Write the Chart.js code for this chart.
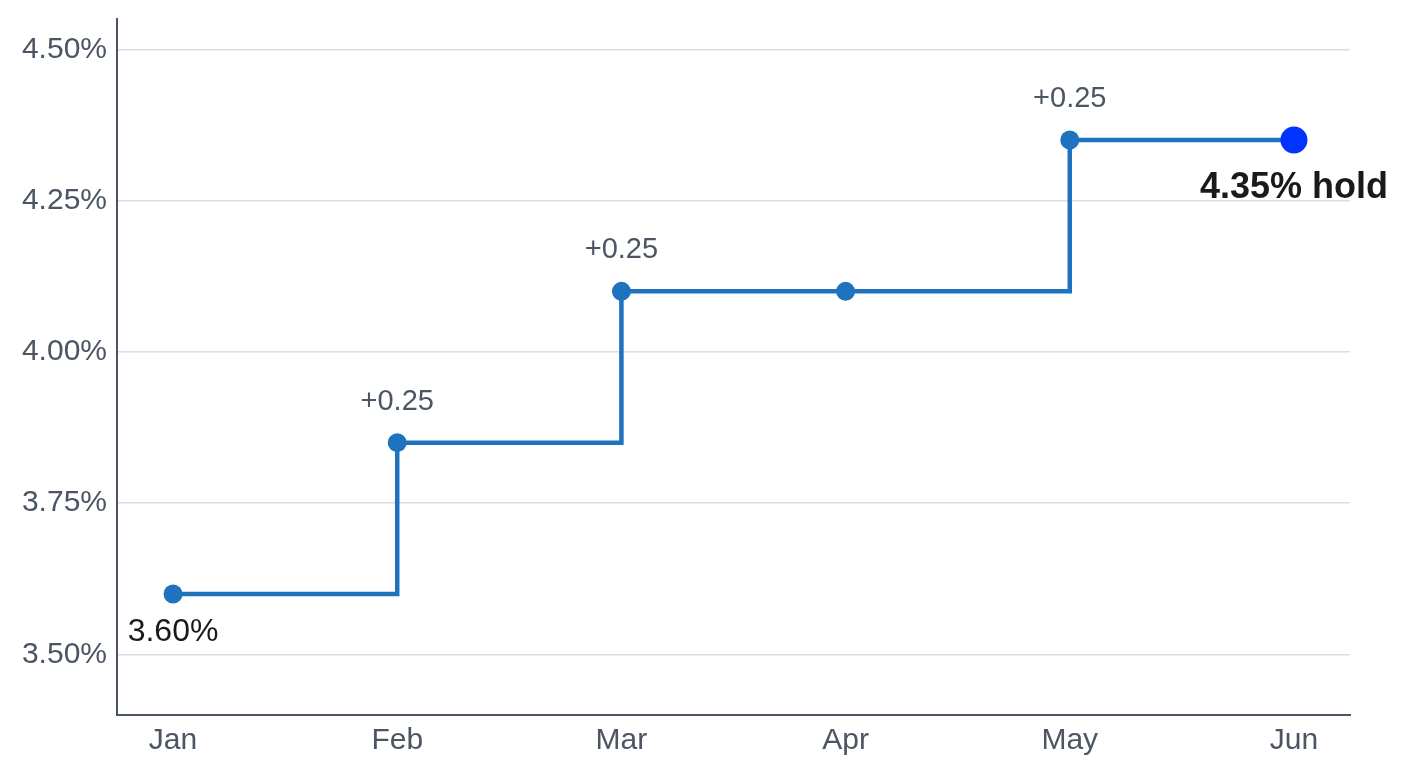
<!DOCTYPE html>
<html>
<head>
  <title>Policy rate steps</title>
  <script src="https://cdn.jsdelivr.net/npm/chart.js"></script>
  <style>
    html, body { margin: 0; padding: 0; background: #fff; }
    #wrap { width: 1408px; height: 775px; }
  </style>
</head>
<body>
  <div id="wrap">
    <canvas id="rateChart" width="1408" height="775"></canvas>
  </div>

  <script>
    // datos
    const months = ['Jan', 'Feb', 'Mar', 'Apr', 'May', 'Jun'];
    const rates = [3.60, 3.85, 4.10, 4.10, 4.35, 4.35];
    const changeLabels = ['', '+0.25', '+0.25', '', '+0.25', ''];
    const yTicks = [3.50, 3.75, 4.00, 4.25, 4.50];
    const startLabel = '3.60%';
    const endLabel = '4.35% hold';

    const FONT = '"Liberation Sans", Arial, sans-serif';
    const GRAY = '#4b5563';
    const LINE = '#1f72bd';

    // etiquetas sobre los puntos
    const labelPlugin = {
      id: 'stepLabels',
      afterDatasetsDraw(chart) {
        const ctx = chart.ctx;
        const xs = chart.scales.x;
        const ys = chart.scales.y;
        ctx.save();
        ctx.textAlign = 'center';
        ctx.textBaseline = 'middle';

        ctx.fillStyle = GRAY;
        ctx.font = '29px ' + FONT;
        changeLabels.forEach((txt, i) => {
          if (!txt) return;
          ctx.fillText(txt, xs.getPixelForValue(i), ys.getPixelForValue(rates[i]) - 41);
        });

        ctx.fillStyle = '#1a1a1a';
        ctx.font = '32px ' + FONT;
        ctx.fillText(startLabel, xs.getPixelForValue(0), ys.getPixelForValue(rates[0]) + 38);

        const last = rates.length - 1;
        ctx.font = 'bold 36px ' + FONT;
        ctx.fillText(endLabel, xs.getPixelForValue(last), ys.getPixelForValue(rates[last]) + 48);
        ctx.restore();
      }
    };

    const ctx = document.getElementById('rateChart').getContext('2d');
    const chart = new Chart(ctx, {
      type: 'line',
      data: {
        datasets: [{
          data: rates.map((r, i) => ({ x: i, y: r })),
          borderColor: LINE,
          borderWidth: 4.5,
          stepped: 'before',
          fill: false,
          pointRadius: rates.map((r, i) => i === rates.length - 1 ? 13.5 : 9.5),
          pointBackgroundColor: rates.map((r, i) => i === rates.length - 1 ? '#0033ff' : LINE),
          pointBorderWidth: 0,
          pointHoverRadius: 0
        }]
      },
      options: {
        responsive: false,
        animation: false,
        events: [],
        layout: { padding: { top: 19, right: 58, left: 0, bottom: 0 } },
        plugins: {
          legend: { display: false },
          tooltip: { enabled: false }
        },
        scales: {
          x: {
            type: 'linear',
            min: -0.25,
            max: months.length - 0.75,
            afterBuildTicks: (axis) => { axis.ticks = months.map((m, i) => ({ value: i })); },
            afterFit: (axis) => { axis.height = 60; axis.paddingLeft = 0; axis.paddingRight = 0; },
            grid: { display: false, drawTicks: false },
            border: { display: true, color: GRAY, width: 2 },
            ticks: {
              color: GRAY,
              font: { family: FONT, size: 30 },
              padding: 8,
              maxRotation: 0,
              callback: (v) => months[v]
            }
          },
          y: {
            min: 3.40,
            max: 4.55,
            afterBuildTicks: (axis) => { axis.ticks = yTicks.map(v => ({ value: v })); },
            afterFit: (axis) => { axis.width = 117; axis.paddingTop = 0; axis.paddingBottom = 0; },
            grid: { color: '#dddddd', lineWidth: 1.5, drawTicks: false },
            border: { display: true, color: GRAY, width: 2 },
            ticks: {
              color: GRAY,
              font: { family: FONT, size: 30 },
              padding: 10,
              callback: (v) => v.toFixed(2) + '%'
            }
          }
        }
      },
      plugins: [labelPlugin]
    });
  </script>
</body>
</html>
